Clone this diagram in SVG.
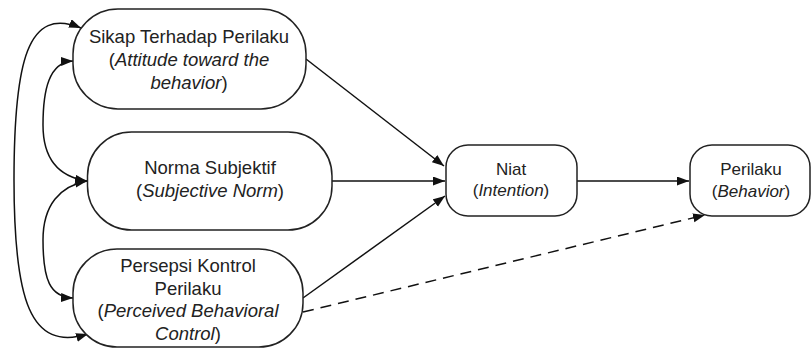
<svg xmlns="http://www.w3.org/2000/svg" width="811" height="349" viewBox="0 0 811 349">
<style>
.node{fill:#fff;stroke:#222;stroke-width:1.5}
.c{fill:none;stroke:#111;stroke-width:1.5}
.dash{stroke-dasharray:11,7}
text{font-family:"Liberation Sans",Arial,sans-serif;fill:#222;text-anchor:middle}
.big{font-size:18.5px}
.sm{font-size:17px}
.it{font-style:italic}
</style>
<defs>
<marker id="ah" markerUnits="userSpaceOnUse" markerWidth="13" markerHeight="10" refX="12" refY="4.5" orient="auto-start-reverse">
<path d="M0,0 L12,4.5 L0,9 z" fill="#111"/>
</marker>
</defs>
<rect width="811" height="349" fill="#fff"/>
<g id="connectors">
<path class="c" d="M306,59 L444,166" marker-end="url(#ah)"/>
<path class="c" d="M332,181 L445,181" marker-end="url(#ah)"/>
<path class="c" d="M303,298 L445,196" marker-end="url(#ah)"/>
<path class="c" d="M577,181 L689,181" marker-end="url(#ah)"/>
<path class="c dash" d="M303,312 L705,215" marker-end="url(#ah)"/>
<path class="c" d="M81,28 C28,6 14,60 14,180 C14,300 30,352 88,334" marker-start="url(#ah)" marker-end="url(#ah)"/>
<path class="c" d="M73,61 C49,62 43,90 43,125 C43,160 60,177 87,181" marker-start="url(#ah)" marker-end="url(#ah)"/>
<path class="c" d="M87,181 C60,186 43,205 43,240 C43,280 50,297 73,298" marker-start="url(#ah)" marker-end="url(#ah)"/>
</g>
<g id="sikap">
<rect class="node" x="73" y="9" width="233" height="100" rx="45" ry="45"/>
<text class="big" x="189" y="43">Sikap Terhadap Perilaku</text>
<text class="big" x="189" y="66">(<tspan class="it">Attitude toward the</tspan></text>
<text class="big" x="189" y="89"><tspan class="it">behavior</tspan>)</text>
</g>
<g id="norma">
<rect class="node" x="87.5" y="132" width="244.5" height="98" rx="44" ry="44"/>
<text class="big" x="210" y="174">Norma Subjektif</text>
<text class="big" x="210" y="197">(<tspan class="it">Subjective Norm</tspan>)</text>
</g>
<g id="persepsi">
<rect class="node" x="73" y="249" width="230" height="98" rx="44" ry="44"/>
<text class="big" x="188" y="272">Persepsi Kontrol</text>
<text class="big" x="188" y="294.5">Perilaku</text>
<text class="big" x="188" y="317">(<tspan class="it">Perceived Behavioral</tspan></text>
<text class="big" x="188" y="340"><tspan class="it">Control</tspan>)</text>
</g>
<g id="niat">
<rect class="node" x="446" y="145" width="131" height="71" rx="22" ry="22"/>
<text class="sm" x="511" y="175">Niat</text>
<text class="sm" x="511" y="196">(<tspan class="it">Intention</tspan>)</text>
</g>
<g id="perilaku">
<rect class="node" x="690" y="145" width="120" height="71" rx="22" ry="22"/>
<text class="sm" x="751" y="175">Perilaku</text>
<text class="sm" x="751" y="196.5">(<tspan class="it">Behavior</tspan>)</text>
</g>
</svg>
